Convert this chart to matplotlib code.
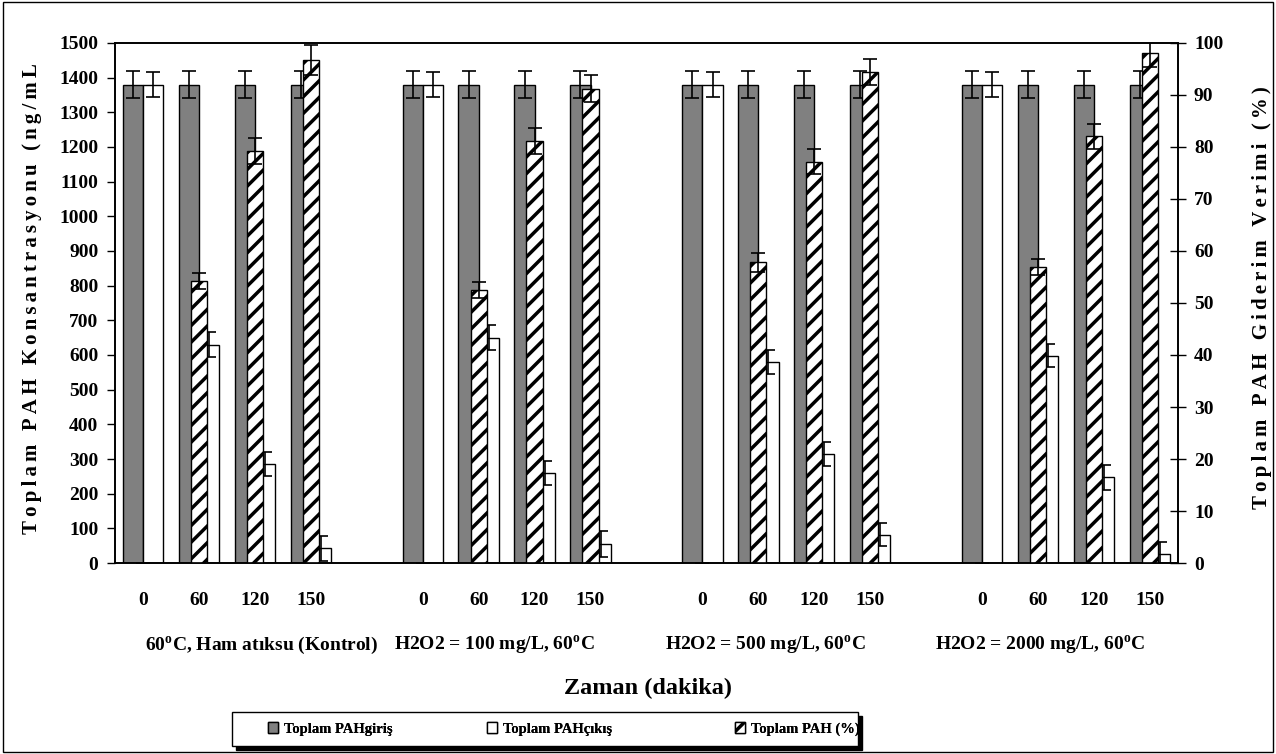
import matplotlib.pyplot as plt
from matplotlib.patches import Rectangle
import numpy as np

plt.rcParams['font.family'] = ['Liberation Serif', 'DejaVu Serif']
plt.rcParams['font.weight'] = 'bold'
plt.rcParams['hatch.linewidth'] = 2.5
plt.rcParams['mathtext.fontset'] = 'custom'
plt.rcParams['mathtext.bf'] = 'Liberation Serif:bold'

# zaman noktalari ve gruplar
times = ['0', '60', '120', '150']
groups = ['60$^{\\mathbf{o}}$C, Ham atıksu (Kontrol)',
          'H2O2 = 100 mg/L, 60$^{\\mathbf{o}}$C',
          'H2O2 = 500 mg/L, 60$^{\\mathbf{o}}$C',
          'H2O2 = 2000 mg/L, 60$^{\\mathbf{o}}$C']

# Toplam PAH giris (ng/mL)
giris = [1380, 1380, 1380, 1380,
         1380, 1380, 1380, 1380,
         1380, 1380, 1380, 1380,
         1380, 1380, 1380, 1380]
giris_err = [40] * 16

# Toplam PAH cikis (ng/mL)
cikis = [1380, 630, 285, 42,
         1380, 650, 260, 55,
         1380, 580, 315, 82,
         1380, 598, 248, 27]
cikis_err = [35, 35, 35, 35,
             35, 37, 34, 37,
             35, 35, 35, 34,
             35, 34, 36, 35]

# Toplam PAH giderim verimi (%)
verim = [0, 54.2, 79.3, 96.8,
         0, 52.5, 81.2, 91.2,
         0, 57.8, 77.2, 94.5,
         0, 56.9, 82.1, 98.1]
verim_err = [0, 1.6, 2.5, 2.9,
             0, 1.6, 2.5, 2.6,
             0, 1.8, 2.4, 2.5,
             0, 1.6, 2.4, 2.7]

labels = ['Toplam PAHgiriş', 'Toplam PAHçıkış', 'Toplam PAH (%)']

# her grup arasinda bos bir kategori var
pos = []
for g in range(4):
    for t in range(4):
        pos.append(g * 5 + t)
pos = np.array(pos)


def spaced(s):
    # harfler arasina ince bosluk (eksen basliklari aralikli yazilmis)
    return '\u2009'.join(s)


fig = plt.figure(figsize=(12.76, 7.54), dpi=100)
ax = fig.add_axes([0.0901, 0.2533, 0.8331, 0.6897])
ax2 = ax.twinx()

w = 0.36
ekw = dict(ecolor='black', elinewidth=1.2, capsize=5, capthick=1.2)
b1 = ax.bar(pos - w / 2, giris, w, color='#808080', edgecolor='black', linewidth=1,
            yerr=giris_err, error_kw=ekw)
b2 = ax.bar(pos + w / 2, cikis, w, color='white', edgecolor='black', linewidth=1,
            yerr=cikis_err, error_kw=ekw)
b3 = ax2.bar(pos, verim, 0.29, color='white', edgecolor='black', linewidth=1, hatch='//',
             yerr=verim_err, error_kw=ekw)

ax.set_xlim(-0.5, 18.5)
ax.set_ylim(0, 1500)
ax.set_yticks(np.arange(0, 1501, 100))
ax2.set_ylim(0, 100)
ax2.set_yticks(np.arange(0, 101, 10))

ax.set_xticks(pos)
ax.set_xticklabels(times * 4, fontsize=14, fontweight='bold')
ax.tick_params(axis='x', length=0, pad=21)
ax.tick_params(axis='y', labelsize=14, direction='out', length=6, width=1, pad=6)
ax2.tick_params(axis='y', labelsize=14, direction='inout', length=11, width=1, pad=6)
for a in (ax, ax2):
    for s in a.spines.values():
        s.set_linewidth(1.2)

ax.set_ylabel(spaced('Toplam PAH Konsantrasyonu (ng/mL'), fontsize=15, fontweight='bold')
ax2.set_ylabel(spaced('Toplam PAH Giderim Verimi (%)'), fontsize=15, fontweight='bold')
ax.yaxis.set_label_coords(-0.0687, 0.508)
ax2.yaxis.set_label_coords(1.0696, 0.51)

# grup etiketleri
grp_x = [0.1383, 0.3565, 0.6115, 0.870]
for gx, name in zip(grp_x, groups):
    ax.text(gx, -0.159, name, transform=ax.transAxes, ha='center', va='center',
            fontsize=14, fontweight='bold')
ax.text(0.501, -0.241, 'Zaman (dakika)', transform=ax.transAxes, ha='center', va='center',
        fontsize=17.5, fontweight='bold')

# lejant kutusu ve golgesi
fig.patches.append(Rectangle((0.1849, 0.0053), 0.4906, 0.0451, transform=fig.transFigure,
                             facecolor='black', edgecolor='black', linewidth=1))
fig.patches.append(Rectangle((0.1818, 0.0106), 0.4906, 0.0451, transform=fig.transFigure,
                             facecolor='white', edgecolor='black', linewidth=1))

leg_x = [0.2100, 0.3817, 0.5760]
for hx, h, lab in zip(leg_x, [b1, b2, b3], labels):
    lg = fig.legend([h], [lab], loc='center left', bbox_to_anchor=(hx, 0.0332),
                    frameon=False, fontsize=10.5, handlelength=0.7, handleheight=0.7,
                    handletextpad=0.4, borderpad=0, borderaxespad=0)
    fig.add_artist(lg)

# sekil cercevesi
fig.patches.append(Rectangle((0.002, 0.003), 0.996, 0.994, transform=fig.transFigure,
                             fill=False, edgecolor='black', linewidth=1))

plt.savefig('out.png', dpi=100)
